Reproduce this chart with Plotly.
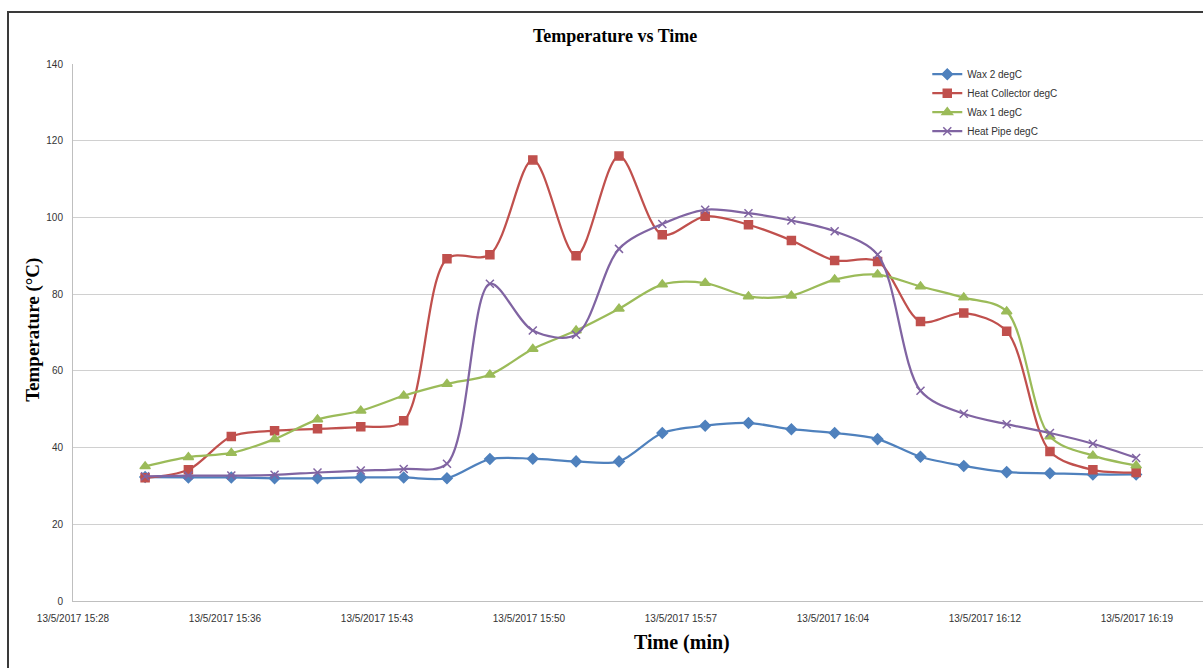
import plotly.graph_objects as go

times = [
    "2017-05-13 15:32:13", "2017-05-13 15:34:16", "2017-05-13 15:36:18", "2017-05-13 15:38:21",
    "2017-05-13 15:40:23", "2017-05-13 15:42:26", "2017-05-13 15:44:28", "2017-05-13 15:46:31",
    "2017-05-13 15:48:33", "2017-05-13 15:50:35", "2017-05-13 15:52:38", "2017-05-13 15:54:40",
    "2017-05-13 15:56:43", "2017-05-13 15:58:45", "2017-05-13 16:00:48", "2017-05-13 16:02:50",
    "2017-05-13 16:04:53", "2017-05-13 16:06:55", "2017-05-13 16:08:57", "2017-05-13 16:11:00",
    "2017-05-13 16:13:02", "2017-05-13 16:15:05", "2017-05-13 16:17:07", "2017-05-13 16:19:10",
]

wax2 = [32.3, 32.2, 32.2, 32.0, 32.0, 32.2, 32.2, 32.0, 37.0, 37.1, 36.4, 36.4,
        43.8, 45.7, 46.4, 44.8, 43.8, 42.2, 37.6, 35.2, 33.6, 33.3, 33.0, 33.0]
heat_collector = [32.1, 34.2, 42.9, 44.4, 44.9, 45.4, 47.0, 89.2, 90.3, 115.0, 90.0, 116.0,
                  95.5, 100.3, 98.1, 94.0, 88.8, 88.5, 72.9, 75.1, 70.3, 39.0, 34.2, 33.5]
wax1 = [35.1, 37.5, 38.6, 42.2, 47.3, 49.6, 53.5, 56.6, 59.0, 65.7, 70.5, 76.2,
        82.5, 82.9, 79.4, 79.6, 83.8, 85.1, 82.0, 79.1, 75.5, 42.9, 37.9, 35.3]
heat_pipe = [32.5, 32.7, 32.7, 32.9, 33.5, 34.0, 34.4, 35.8, 82.7, 70.5, 69.4, 91.8,
             98.3, 102.0, 101.1, 99.2, 96.4, 90.3, 54.8, 48.8, 46.1, 43.8, 41.0, 37.3]

tick_vals = ["2017-05-13 15:28:48", "2017-05-13 15:36:00", "2017-05-13 15:43:12",
             "2017-05-13 15:50:24", "2017-05-13 15:57:36", "2017-05-13 16:04:48",
             "2017-05-13 16:12:00", "2017-05-13 16:19:12"]
tick_text = ["13/5/2017 15:28", "13/5/2017 15:36", "13/5/2017 15:43", "13/5/2017 15:50",
             "13/5/2017 15:57", "13/5/2017 16:04", "13/5/2017 16:12", "13/5/2017 16:19"]

series = [
    ("Wax 2 degC", wax2, "#4F81BD", "diamond", 8),
    ("Heat Collector degC", heat_collector, "#C0504D", "square", 8),
    ("Wax 1 degC", wax1, "#9BBB59", "triangle-up", 9),
    ("Heat Pipe degC", heat_pipe, "#8064A2", "x-thin", 8),
]

fig = go.Figure()
for name, vals, color, sym, size in series:
    fig.add_trace(go.Scatter(
        x=times, y=vals, name=name, mode="lines+markers",
        line=dict(color=color, width=2.25, shape="spline", smoothing=0.9),
        marker=dict(symbol=sym, size=size, color=color,
                    line=dict(color=color, width=1.5)),
    ))

sans = "Liberation Sans, Arial, sans-serif"
tick_font = dict(family=sans, size=10, color="#333333")
serif = "Liberation Serif, Times New Roman, serif"

fig.update_layout(
    width=1203, height=668,
    margin=dict(l=73, r=0, t=64, b=67),
    paper_bgcolor="white", plot_bgcolor="white",
    showlegend=True,
    legend=dict(x=0.756, y=1.008, xanchor="left", yanchor="top",
                font=dict(family=sans, size=10, color="#333333"),
                bgcolor="rgba(0,0,0,0)", tracegroupgap=0, itemwidth=30),
    xaxis=dict(type="date", range=["2017-05-13 15:28:48", "2017-05-13 16:22:20"],
               tickmode="array", tickvals=tick_vals, ticktext=tick_text,
               tickfont=tick_font, showgrid=False, zeroline=False,
               showline=True, linecolor="#BFBFBF", linewidth=1, ticks="",
               ticklabelstandoff=8),
    yaxis=dict(range=[0, 140], tickmode="array", tickvals=[0, 20, 40, 60, 80, 100, 120, 140],
               tickfont=tick_font, showgrid=True, gridcolor="#D0D0D0", gridwidth=1,
               zeroline=False, showline=True, linecolor="#BFBFBF", linewidth=1, ticks="",
               ticklabelstandoff=7),
    annotations=[
        dict(text="<b>Temperature vs Time</b>", xref="paper", yref="paper",
             x=(615 - 73) / 1130, y=(601.3 - 36) / 537.3, xanchor="center", yanchor="middle",
             showarrow=False, font=dict(family=serif, size=18, color="black")),
        dict(text="<b>Time (min)</b>", xref="paper", yref="paper",
             x=(681.5 - 73) / 1130, y=(601.3 - 643) / 537.3, xanchor="center", yanchor="middle",
             showarrow=False, font=dict(family=serif, size=20, color="black")),
        dict(text="<b>Temperature (°C)</b>", xref="paper", yref="paper",
             x=(33 - 73) / 1130, y=(601.3 - 330) / 537.3, xanchor="center", yanchor="middle",
             textangle=-90, showarrow=False, font=dict(family=serif, size=19, color="black")),
    ],
    shapes=[
        dict(type="rect", xref="paper", yref="paper",
             x0=(8 - 73) / 1130, x1=1.2, y0=-0.3, y1=(601.3 - 12) / 537.3,
             line=dict(color="#3A3A3A", width=2), fillcolor="rgba(0,0,0,0)", layer="below"),
    ],
)

fig.write_html("out.html")
